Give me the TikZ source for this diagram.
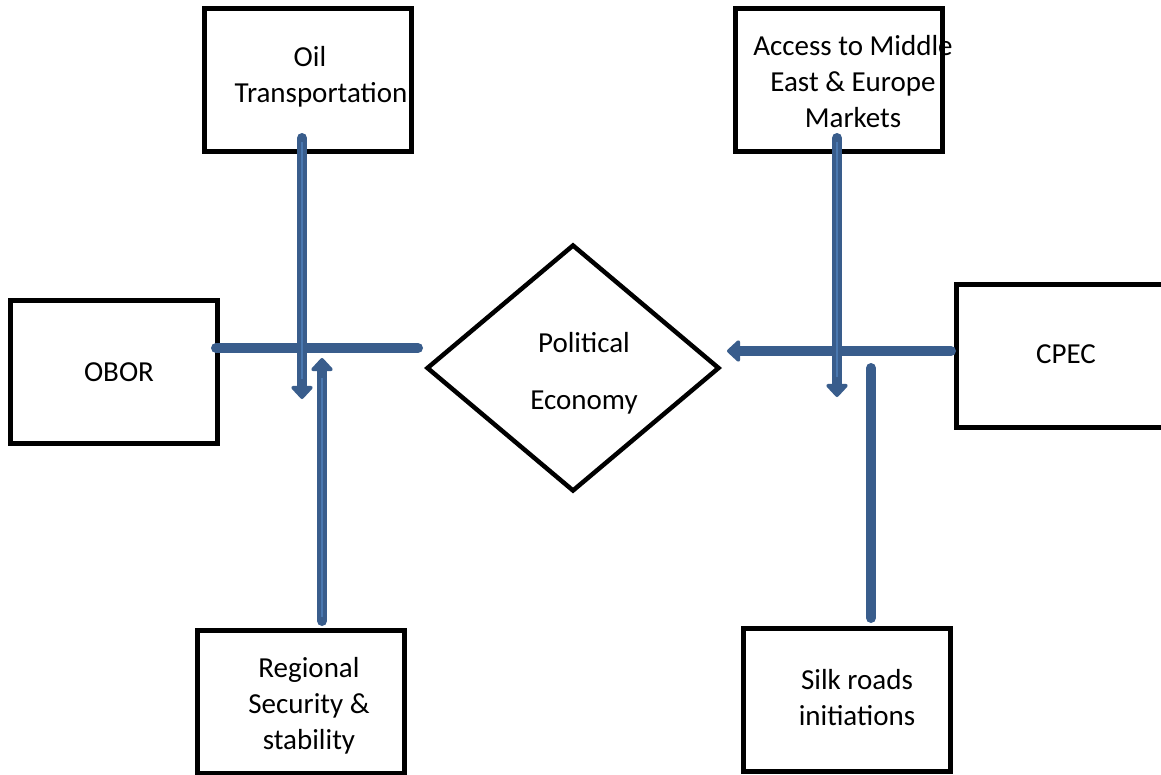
\documentclass[tikz,border=0pt]{standalone}
\usepackage{fontspec}
\setmainfont{Carlito}
\usetikzlibrary{shapes.geometric,arrows.meta}
\definecolor{conncol}{HTML}{395D8C}
\definecolor{stripecol}{HTML}{4A78B0}
\tikzset{
  box/.style={draw=black, line width=5pt, minimum width=207pt, minimum height=143pt, inner sep=0pt, outer sep=0pt, fill=white},
  dia/.style={draw=black, line width=4.5pt, shape=diamond, minimum width=291pt, minimum height=245pt, inner sep=0pt, outer sep=0pt},
  txt/.style={font=\fontsize{29}{36}\selectfont, align=center, inner sep=0pt},
  conn/.style={draw=conncol, line width=10pt, line cap=round},
  arr/.style={conn, -{Triangle[width=25pt,length=14pt,round]}},
  stripe/.style={draw=stripecol, line width=2.5pt, shorten <=4pt, shorten >=20pt},
}
\begin{document}
\begin{tikzpicture}[x=1pt,y=-1pt]
\path[use as bounding box, clip] (0,0) rectangle (1161,774);
\fill[white] (0,0) rectangle (1161,774);
% boxes
\node[box] (oil) at (308,79.5) {};
\node[box] (acc) at (838.5,80) {};
\node[box] (obor) at (113.5,372) {};
\node[box] (cpec) at (1060,356) {};
\node[box] (reg) at (300.5,701.5) {};
\node[box] (silk) at (846.5,700) {};
\node[dia] (pe) at (573,368) {};
% texts
\node[txt] (oilT) at (321,77) {Oil\hspace*{22pt}\\Transportation};
\node[txt] (accT) at (853,82) {Access to Middle\\East \& Europe\\Markets};
\node[txt] (oborT) at (119,372) {OBOR};
\node[txt] (cpecT) at (1066,354) {CPEC};
\node[txt] (peT) at (584,373) {Political\\[21pt]Economy};
\node[txt] (regT) at (309,706) {Regional\\Security \&\\stability};
\node[txt] (silkT) at (857,698) {Silk roads\\initiations};
% connector end points
\coordinate (oilS) at (302,138);
\coordinate (oilE) at (302,399);
\coordinate (oborS) at (216,348);
\coordinate (oborE) at (418,348);
\coordinate (regS) at (322,621);
\coordinate (regE) at (322,358);
\coordinate (accS) at (837,138);
\coordinate (accE) at (837,397);
\coordinate (cpecS) at (951,351);
\coordinate (cpecE) at (727,351);
\coordinate (silkS) at (871,618);
\coordinate (silkE) at (871,368);
% connectors
\draw[conn] (oborS) -- (oborE);
\draw[arr] (cpecS) -- (cpecE);
\draw[arr] (oilS) -- (oilE);
\draw[stripe] (oilS) -- (oilE);
\draw[arr] (regS) -- (regE);
\draw[stripe] (regS) -- (regE);
\draw[arr] (accS) -- (accE);
\draw[stripe] (accS) -- (accE);
\draw[conn] (silkS) -- (silkE);
\end{tikzpicture}
\end{document}
